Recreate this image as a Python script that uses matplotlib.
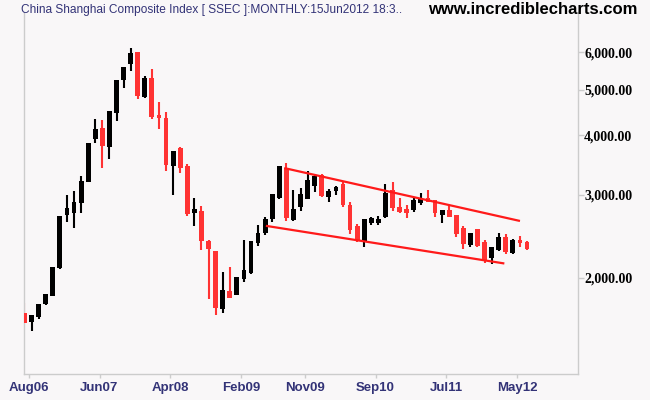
import numpy as np
import pandas as pd
import matplotlib
matplotlib.use('Agg')
import matplotlib.pyplot as plt
from matplotlib.ticker import NullLocator, FixedLocator, FixedFormatter

# monthly candles, Jul 2006 .. Jun 2012
months = list(pd.date_range('2006-07-01', periods=72, freq='MS').strftime('%b%y'))

opens = [1690, 1617, 1657, 1762, 1835, 2096, 2716, 2739, 2876, 3194,
         3931, 4153, 3787, 4467, 5237, 5660, 6001, 4815, 5295, 4411,
         4354, 3453, 3757, 3447, 2739, 2770, 2397, 2281, 1718, 1877,
         1841, 1991, 2052, 2374, 2493, 2664, 2947, 3406, 2657, 2828,
         2932, 3130, 3299, 2968, 3053, 3159, 2852, 2580, 2386, 2614,
         2614, 2694, 3068, 2828, 2801, 2782, 2876, 2947, 2921, 2716,
         2782, 2716, 2555, 2347, 2532, 2380, 2200, 2290, 2440, 2260,
         2410, 2380]
highs = [1768, 1670, 1762, 1850, 2113, 2704, 2994, 3053, 3284, 3861,
         4333, 4312, 4504, 5237, 5587, 6118, 6001, 5340, 5524, 4705,
         4489, 3708, 3787, 3481, 2947, 2838, 2400, 2281, 2056, 2113,
         2013, 2402, 2397, 2588, 2694, 3004, 3454, 3493, 3068, 3100,
         3369, 3316, 3310, 3078, 3128, 3194, 2890, 2605, 2660, 2694,
         2700, 3160, 3185, 2947, 2852, 2968, 3019, 3068, 2921, 2782,
         2838, 2716, 2576, 2485, 2532, 2400, 2322, 2485, 2476, 2412,
         2452, 2398]
lows = [1605, 1548, 1639, 1755, 1830, 2090, 2630, 2554, 2739, 3190,
        3861, 3419, 3572, 4297, 5044, 5479, 4775, 4791, 4339, 4133,
        3369, 2994, 3337, 2708, 2575, 2292, 1803, 1671, 1690, 1817,
        1841, 1965, 2037, 2340, 2461, 2632, 2935, 2639, 2638, 2770,
        2932, 3043, 2968, 2898, 2990, 2828, 2481, 2382, 2328, 2588,
        2588, 2680, 2774, 2739, 2673, 2760, 2852, 2895, 2694, 2618,
        2694, 2438, 2301, 2322, 2328, 2148, 2140, 2275, 2245, 2250,
        2322, 2292]
closes = [1609, 1670, 1762, 1850, 2113, 2704, 2815, 2898, 3210, 3861,
          4127, 3800, 4504, 5237, 5570, 5963, 4845, 5295, 4382, 4348,
          3464, 3708, 3419, 2730, 2797, 2398, 2299, 1726, 1887, 1817,
          2013, 2082, 2397, 2485, 2660, 3004, 3447, 2673, 2801, 3004,
          3220, 3282, 2979, 3053, 3110, 2852, 2520, 2398, 2660, 2677,
          2660, 3019, 2807, 2760, 2740, 2929, 2947, 2898, 2739, 2782,
          2694, 2480, 2359, 2485, 2340, 2180, 2322, 2440, 2265, 2400,
          2373, 2306]

# hand-drawn channel lines (month position, price)
upper_trend_pos = [36.85, 69.85]
upper_trend_price = [3409, 2642]
lower_trend_pos = [34.26, 67.64]
lower_trend_price = [2575, 2148]

x_tick_labels = ['Aug06', 'Jun07', 'Apr08', 'Feb09', 'Nov09', 'Sep10', 'Jul11', 'May12']
y_ticks = [2000, 3000, 4000, 5000, 6000]

BG = '#f9f7f8'
FRAME = '#cccccc'
RED = '#ff3333'
NAVY = '#333377'

o = np.array(opens, float)
h = np.array(highs, float)
l = np.array(lows, float)
c = np.array(closes, float)
x = np.arange(len(o))
colors = np.where(c > o, 'black', RED)

fig = plt.figure(figsize=(6.5, 4), dpi=100, facecolor=BG)
ax = fig.add_axes([24 / 650, 26 / 400, 554 / 650, 362 / 400], facecolor=BG)

# wicks then bodies
ax.vlines(x, l, h, colors=colors, lw=1.5, zorder=2)
body_lo = np.minimum(o, c)
body_hi = np.maximum(np.maximum(o, c), body_lo * 1.008)
ax.bar(x, body_hi - body_lo, bottom=body_lo, width=0.68, color=colors, linewidth=0, zorder=3)

ax.plot(upper_trend_pos, upper_trend_price, color='#ff1a1a', lw=1.6, zorder=4)
ax.plot(lower_trend_pos, lower_trend_price, color='#ff1a1a', lw=1.6, zorder=4)

ax.set_yscale('log')
ax.set_ylim(1254, 7289)
ax.set_xlim(-0.07, 78.2)

ax.yaxis.set_minor_locator(NullLocator())
ax.yaxis.set_major_locator(FixedLocator(y_ticks))
ax.yaxis.set_major_formatter(FixedFormatter([f'{v:,.2f}' for v in y_ticks]))
ax.yaxis.tick_right()

tick_pos = [months.index(m) - 0.4 for m in x_tick_labels]
ax.set_xticks(tick_pos)
ax.set_xticklabels(x_tick_labels)

ax.tick_params(axis='y', length=4, width=1, color=FRAME, pad=0.5,
               labelsize=10, labelcolor='black')
ax.tick_params(axis='x', length=3, width=1, color=FRAME, pad=3,
               labelsize=9.5, labelcolor=NAVY)
for t in ax.get_yticklabels():
    t.set_fontfamily('Liberation Serif')
    t.set_fontweight('bold')
for t in ax.get_xticklabels():
    t.set_fontfamily('Liberation Sans')
    t.set_fontweight('bold')

for side in ['left', 'right', 'bottom']:
    ax.spines[side].set_color(FRAME)
    ax.spines[side].set_linewidth(1)
ax.spines['top'].set_visible(False)

fig.text(21 / 650, 1 - 10 / 400, 'China Shanghai Composite Index [ SSEC ]:MONTHLY:15Jun2012 18:3..',
         family='Liberation Sans', fontsize=8.6, color=NAVY, va='center', ha='left')
fig.text(637 / 650, 1 - 10 / 400, 'www.incrediblecharts.com',
         family='Liberation Sans', fontsize=12, fontweight='bold', color='black',
         va='center', ha='right')

fig.savefig('out.png', dpi=100, facecolor=BG)
